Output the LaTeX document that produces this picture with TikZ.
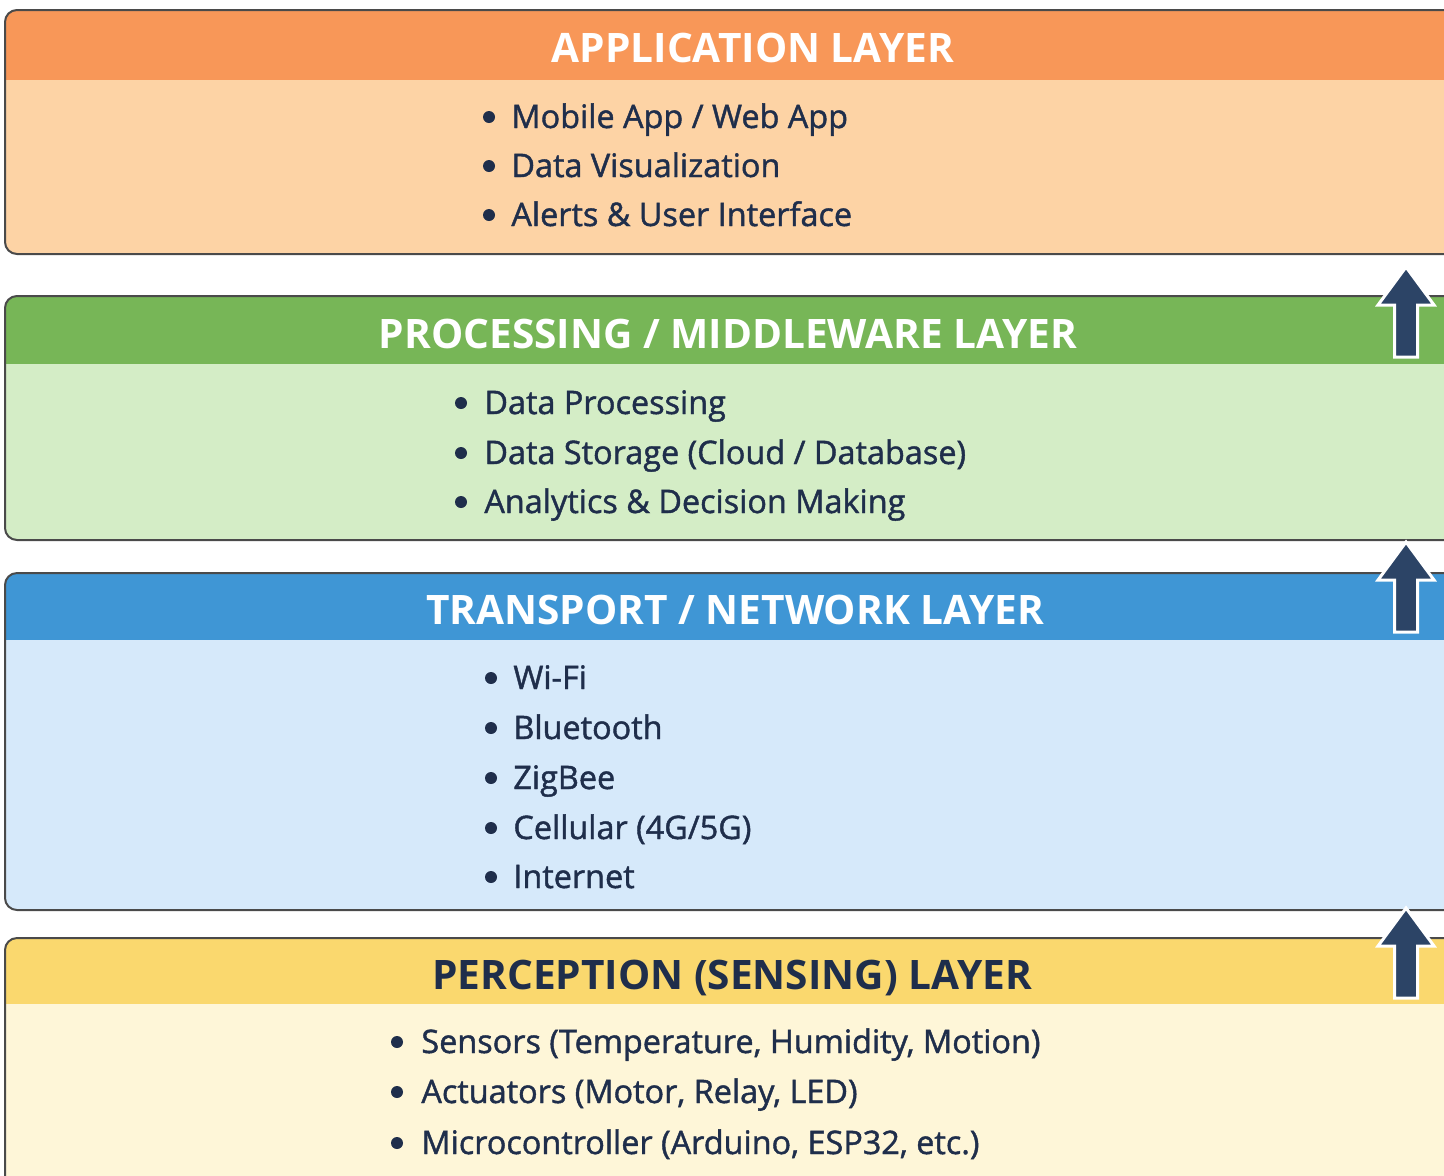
\documentclass[tikz,border=0pt]{standalone}
\usepackage{fontspec}
\setmainfont{Open Sans}
\newfontfamily\itemfont{Open Sans}[FakeBold=1.3]
\definecolor{appHead}{HTML}{F89758}
\definecolor{appBody}{HTML}{FDD3A5}
\definecolor{procHead}{HTML}{77B657}
\definecolor{procBody}{HTML}{D4EDC6}
\definecolor{netHead}{HTML}{3F96D5}
\definecolor{netBody}{HTML}{D6E9FA}
\definecolor{senseHead}{HTML}{FAD86E}
\definecolor{senseBody}{HTML}{FEF6D8}
\definecolor{ink}{HTML}{1F2E4B}
\definecolor{edge}{HTML}{4A4A4A}
\definecolor{arrowFill}{HTML}{2C4466}
\tikzset{
  layertitle/.style={anchor=base, font=\bfseries\fontsize{20.3}{24}\selectfont, text=white, inner sep=0pt},
  layeritem/.style={anchor=base west, font=\itemfont\fontsize{16.2}{19}\selectfont, text=ink, inner sep=0pt},
  dot/.style={fill=ink},
  frame/.style={draw=edge, line width=1pt, rounded corners=6pt},
  uparrow/.style={fill=arrowFill, draw=white, line width=1.5pt, line join=miter}
}
% layer box: #1 top, #2 header bottom, #3 bottom, #4 header colour, #5 body colour
\newcommand\layerbox[5]{%
  \fill[#5, rounded corners=6pt] (5,#1) rectangle (1480,#3);
  \begin{scope}
    \clip[rounded corners=6pt] (5,#1) rectangle (1480,#3);
    \fill[#4] (0,#1) rectangle (1480,#2);
  \end{scope}
  \draw[frame] (5,#1) rectangle (1480,#3);
}
% bullet line: #1 name, #2 bullet x, #3 text x, #4 y centre, #5 text
\newcommand\bulletline[5]{%
  \fill[dot] (#2,#4) circle (3pt);
  \node[layeritem] (#1) at (#3,#4+11) {#5};
}
\begin{document}
\begin{tikzpicture}[x=0.5pt,y=-0.5pt]
\useasboundingbox (0,0) rectangle (1444,1175);
\clip (0,0) rectangle (1444,1175);
\fill[white] (0,0) rectangle (1444,1175);

% the four layers, top to bottom
\layerbox{10}{80}{254}{appHead}{appBody}
\layerbox{296}{364}{540}{procHead}{procBody}
\layerbox{573}{640}{910}{netHead}{netBody}
\layerbox{938}{1004}{1200}{senseHead}{senseBody}

% layer titles
\node[layertitle] (appT) at (753,62) {APPLICATION LAYER};
\node[layertitle] (procT) at (728,348) {PROCESSING / MIDDLEWARE LAYER};
\node[layertitle] (netT) at (735,624) {TRANSPORT / NETWORK LAYER};
\node[layertitle, text=ink] (senseT) at (732,989) {PERCEPTION (SENSING) LAYER};

% application layer items
\bulletline{app1}{489}{511}{117}{Mobile App / Web App}
\bulletline{app2}{489}{511}{166}{Data Visualization}
\bulletline{app3}{489}{511}{215}{Alerts \& User Interface}

% processing layer items
\bulletline{proc1}{461}{484}{403}{Data Processing}
\bulletline{proc2}{461}{484}{453}{Data Storage (Cloud / Database)}
\bulletline{proc3}{461}{484}{502}{Analytics \& Decision Making}

% network layer items
\bulletline{net1}{491}{513}{678}{Wi-Fi}
\bulletline{net2}{491}{513}{728}{Bluetooth}
\bulletline{net3}{491}{513}{778}{ZigBee}
\bulletline{net4}{491}{513}{828}{Cellular (4G/5G)}
\bulletline{net5}{491}{513}{877}{Internet}

% perception layer items
\bulletline{sense1}{397}{421}{1042}{Sensors (Temperature, Humidity, Motion)}
\bulletline{sense2}{397}{421}{1092}{Actuators (Motor, Relay, LED)}
\bulletline{sense3}{397}{421}{1143}{Microcontroller (Arduino, ESP32, etc.)}

% upward data-flow arrows at the right edge
\coordinate (up1) at (1406,267);
\coordinate (up2) at (1406,542);
\coordinate (up3) at (1406,908);
\foreach \tip in {up1,up2,up3}{
  \draw[uparrow] (\tip) -- ++(28,38) -- ++(-16.5,0) -- ++(0,52) -- ++(-23,0)
    -- ++(0,-52) -- ++(-16.5,0) -- cycle;
}
\end{tikzpicture}
\end{document}
